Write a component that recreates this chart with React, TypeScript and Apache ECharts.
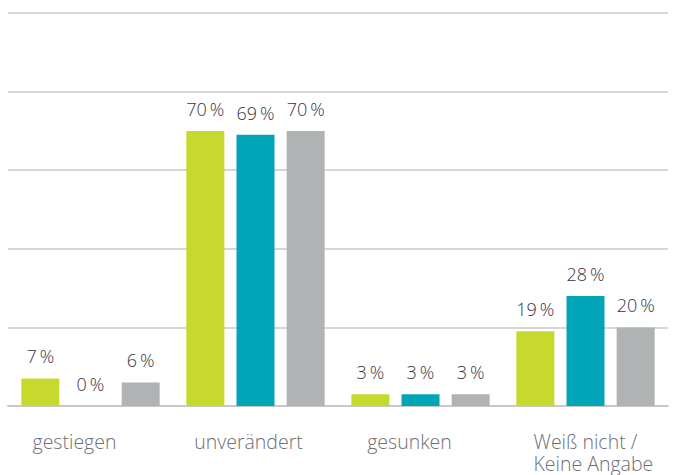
import React, { useEffect, useRef } from "react";
import * as echarts from "echarts";

const categories = ["gestiegen", "unverändert", "gesunken", "Weiß nicht /\nKeine Angabe"];
const seriesA = [7, 70, 3, 19];
const seriesB = [0, 69, 3, 28];
const seriesC = [6, 70, 3, 20];
const colors = ["#c8d92e", "#00a6b8", "#b0b3b3"];
// horizontal nudge of each category label (px, negative = left)
const labelShift = [-16, -7, -11, -52];

export default function App() {
  const ref = useRef<HTMLDivElement>(null);
  useEffect(() => {
    const chart = echarts.init(ref.current!, undefined, { renderer: "svg" });
    const font = "'Open Sans', 'Noto Sans', sans-serif";
    const mk = (data: number[], color: string) => ({
      type: "bar",
      data,
      barWidth: 38,
      barGap: "32%",
      itemStyle: { color },
      label: {
        show: true,
        position: "top",
        distance: 13,
        fontFamily: font,
        fontSize: 18,
        fontWeight: 300,
        color: "#34343f",
        formatter: (p: any) => `${p.value}\u2009%`,
      },
    });
    const xData = categories.map((c, i) => {
      const s = labelShift[i];
      if (i === 3) {
        return { value: c, textStyle: { align: "left", padding: [0, 0, 0, s] } };
      }
      return {
        value: c,
        textStyle: { padding: s < 0 ? [0, -2 * s, 0, 0] : [0, 0, 0, 2 * s] },
      };
    });
    chart.setOption({
      animation: false,
      grid: {
        left: 8,
        right: 9,
        top: 13,
        bottom: 69,
        containLabel: false,
        outerBoundsMode: "none",
      },
      xAxis: {
        type: "category",
        data: xData,
        axisTick: { show: false },
        axisLine: { show: true, lineStyle: { color: "#c8c8c8", width: 2 } },
        axisLabel: {
          margin: 24,
          fontFamily: font,
          fontSize: 19.5,
          fontWeight: 300,
          color: "#6e6e74",
          lineHeight: 22,
          interval: 0,
        },
      },
      yAxis: {
        type: "value",
        min: 0,
        max: 100,
        interval: 20,
        axisLabel: { show: false },
        axisLine: { show: false },
        axisTick: { show: false },
        splitLine: { lineStyle: { color: "#c8c8c8", width: 1.5 } },
      },
      series: [mk(seriesA, colors[0]), mk(seriesB, colors[1]), mk(seriesC, colors[2])],
    });
    return () => chart.dispose();
  }, []);
  return (
    <div
      ref={ref}
      style={{ position: "fixed", left: 0, top: 0, width: 677, height: 475, background: "#fff" }}
    />
  );
}
